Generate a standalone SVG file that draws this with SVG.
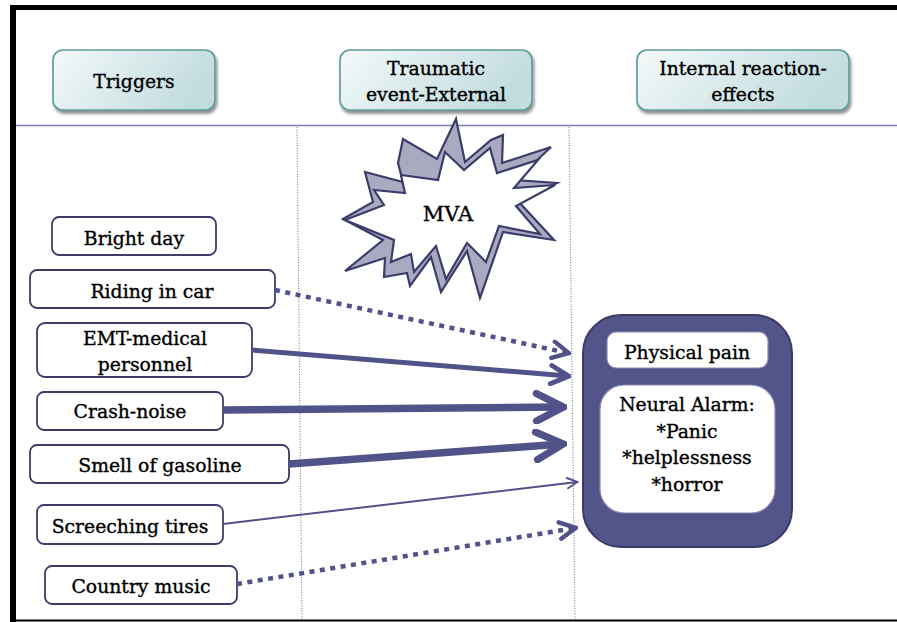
<svg xmlns="http://www.w3.org/2000/svg" width="897" height="622" viewBox="0 0 897 622">
  <defs>
    <linearGradient id="hdrFill" x1="0" y1="0" x2="1" y2="0.3">
      <stop offset="0" stop-color="#f4f9f9"/>
      <stop offset="1" stop-color="#c2dcdf"/>
    </linearGradient>
    <filter id="hdrShadow" x="-10%" y="-10%" width="125%" height="140%">
      <feDropShadow dx="1.5" dy="3" stdDeviation="1.5" flood-color="#000" flood-opacity="0.45"/>
    </filter>
    <!-- open chevron heads; sized in stroke widths -->
    <marker id="chev" viewBox="0 0 10 10" refX="8.6" refY="5" markerUnits="strokeWidth" markerWidth="4.6" markerHeight="4.6" orient="auto">
      <path d="M1.2,1 L9,5 L1.2,9" fill="none" stroke="#52528a" stroke-width="2.1" stroke-linecap="round" stroke-linejoin="miter"/>
    </marker>
    <marker id="chevThin" viewBox="0 0 10 10" refX="8.6" refY="5" markerUnits="strokeWidth" markerWidth="6.5" markerHeight="6.5" orient="auto">
      <path d="M1.2,1 L9,5 L1.2,9" fill="none" stroke="#52528a" stroke-width="1.5" stroke-linecap="round" stroke-linejoin="miter"/>
    </marker>
  </defs>
  <style>
    text { font-family: "DejaVu Serif", "Liberation Serif", serif; fill: #000; stroke: #000; stroke-width: 0.35px; text-anchor: middle; }
    .hdr rect { fill: url(#hdrFill); stroke: #5c9a9d; stroke-width: 1.6; filter: url(#hdrShadow); }
    .hdr text { font-size: 18.8px; }
    .trig rect { fill: #fff; stroke: #3c3c6c; stroke-width: 1.8; }
    .trig text { font-size: 18.8px; }
    .lane { stroke: #6d6da3; stroke-width: 1; stroke-dasharray: 1 1.6; fill: none; }
    .link { fill: none; stroke: #52528a; stroke-linecap: butt; }
    .dot { stroke-dasharray: 5 5.5; }
    .inner rect { fill: #fff; stroke: #8a8ab0; stroke-width: 1.2; }
    .inner text { font-size: 18.8px; }
  </style>

  <rect width="897" height="622" fill="#fff"/>

  <!-- frame -->
  <g id="frame" fill="#000">
    <rect x="10" y="5" width="887" height="5"/>
    <rect x="10" y="5" width="6" height="617"/>
    <rect x="10" y="619.5" width="887" height="2"/>
  </g>

  <!-- header rule and lane separators -->
  <g id="lanes">
    <line x1="16" y1="125.5" x2="897" y2="125.5" stroke="#7d7db0" stroke-width="1.6"/>
    <line class="lane" x1="297" y1="127" x2="302" y2="619"/>
    <line class="lane" x1="569" y1="127" x2="575" y2="619"/>
  </g>

  <!-- column headers -->
  <g id="hdr-triggers" class="hdr">
    <rect x="53" y="50" width="162" height="60" rx="10"/>
    <text x="134" y="88">Triggers</text>
  </g>
  <g id="hdr-event" class="hdr">
    <rect x="340" y="50" width="192" height="60" rx="10"/>
    <text x="436" y="75">Traumatic</text>
    <text x="436" y="101">event-External</text>
  </g>
  <g id="hdr-internal" class="hdr">
    <rect x="637" y="50" width="212" height="60" rx="10"/>
    <text x="743" y="75">Internal reaction-</text>
    <text x="743" y="101">effects</text>
  </g>

  <!-- MVA burst: shaded back face, white front face -->
  <g id="mva" stroke="#3c3c6c" stroke-width="2.2" stroke-linejoin="miter">
    <polygon fill="#a9aac0" points="456,119 465,162 491,140 503,135 502,163 551,147 516,180 557,183 518,201 554,240 503,232 480,298 467,251 441,292 431,257 410,286 407,273 384,277 385,258 345,271 383,240 343,219 373,202 365,172 403,182 398,163 403,139 437,159"/>
    <polygon fill="#fff" points="438,180 445,152 464,170 490,148 497,173 538,160 514,188 555,185 516,206 540,234 499,226 486,262 467,243 446,279 436,246 414,272 411,254 391,262 394,240 345,220 384,205 374,190 405,193 401,175"/>
    <text x="448" y="221" stroke="none" style="font-size:21px">MVA</text>
  </g>

  <!-- trigger nodes -->
  <g id="t-bright" class="trig">
    <rect x="52" y="217" width="164" height="38" rx="7"/>
    <text x="134" y="245">Bright day</text>
  </g>
  <g id="t-riding" class="trig">
    <rect x="30" y="270" width="245" height="38" rx="7"/>
    <text x="152" y="298">Riding in car</text>
  </g>
  <g id="t-emt" class="trig">
    <rect x="37" y="323" width="215" height="54" rx="8"/>
    <text x="145" y="345">EMT-medical</text>
    <text x="145" y="371">personnel</text>
  </g>
  <g id="t-crash" class="trig">
    <rect x="37" y="392" width="186" height="38" rx="7"/>
    <text x="130" y="418">Crash-noise</text>
  </g>
  <g id="t-gas" class="trig">
    <rect x="30" y="445" width="259" height="38" rx="7"/>
    <text x="160" y="472">Smell of gasoline</text>
  </g>
  <g id="t-tires" class="trig">
    <rect x="37" y="505" width="186" height="39" rx="7"/>
    <text x="130" y="533">Screeching tires</text>
  </g>
  <g id="t-music" class="trig">
    <rect x="45" y="566" width="192" height="38" rx="7"/>
    <text x="141" y="593">Country music</text>
  </g>

  <!-- internal reaction node -->
  <g id="reaction">
    <rect x="583" y="315" width="209" height="232" rx="38" fill="#53548a" stroke="#3a3a68" stroke-width="2"/>
    <g class="inner">
      <rect x="607" y="332" width="161" height="36" rx="9"/>
      <text x="687" y="359">Physical pain</text>
      <rect x="600" y="385" width="175" height="128" rx="24"/>
      <text x="687" y="411">Neural Alarm:</text>
      <text x="687" y="438">*Panic</text>
      <text x="687" y="464">*helplessness</text>
      <text x="687" y="491">*horror</text>
    </g>
  </g>

  <!-- connectors -->
  <g id="connectors">
    <path class="link dot" d="M275,290 L568,353" stroke-width="4.5" marker-end="url(#chev)"/>
    <path class="link" d="M252,350 L568,376" stroke-width="5" marker-end="url(#chev)"/>
    <path class="link" d="M223,410 L562,407" stroke-width="7.5" marker-end="url(#chev)"/>
    <path class="link" d="M289,464 L562,444" stroke-width="7.5" marker-end="url(#chev)"/>
    <path class="link" d="M223,524 L577,482" stroke-width="2" marker-end="url(#chevThin)"/>
    <path class="link dot" d="M237,584 L575,528" stroke-width="4.5" marker-end="url(#chev)"/>
  </g>
</svg>
